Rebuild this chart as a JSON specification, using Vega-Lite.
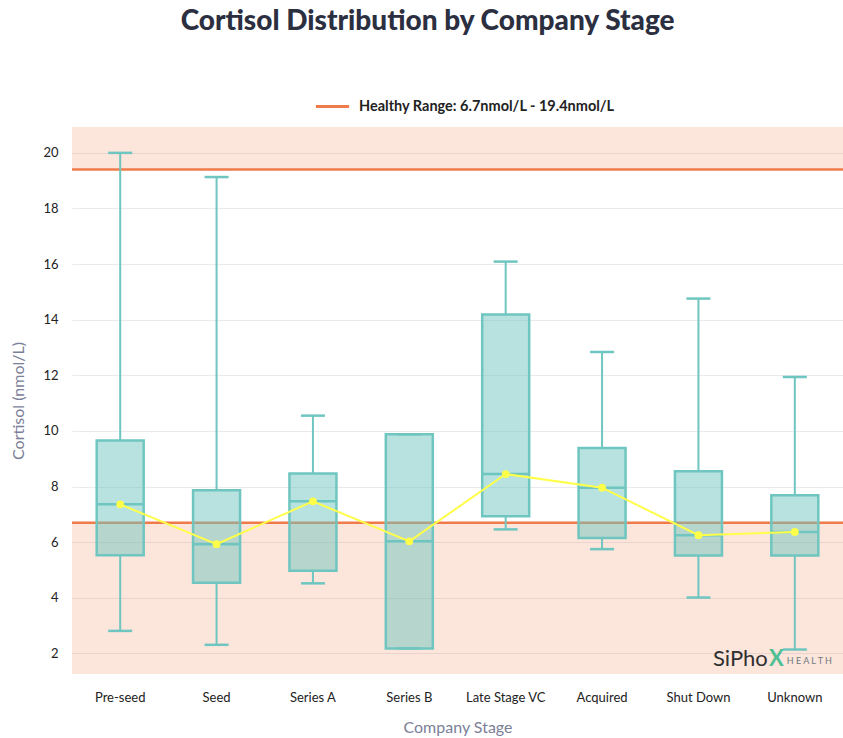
{
  "$schema": "https://vega.github.io/schema/vega-lite/v6.json",
  "width": 771,
  "height": 547,
  "autosize": {"type": "none"},
  "padding": {"left": 72, "top": 127, "right": 0, "bottom": 64},
  "background": "white",
  "title": {
    "text": "Cortisol Distribution by Company Stage",
    "font": "Lato",
    "fontSize": 28,
    "fontWeight": 900,
    "color": "#2b2f3f",
    "anchor": "middle",
    "frame": "bounds",
    "offset": 52
  },
  "datasets": {
    "boxes": [
      {"stage": "Pre-seed", "min": 2.81, "q1": 5.53, "median": 7.36, "q3": 9.66, "max": 20.0},
      {"stage": "Seed", "min": 2.31, "q1": 4.54, "median": 5.93, "q3": 7.87, "max": 19.13},
      {"stage": "Series A", "min": 4.52, "q1": 4.97, "median": 7.47, "q3": 8.47, "max": 10.55},
      {"stage": "Series B", "min": 2.18, "q1": 2.18, "median": 6.03, "q3": 9.88, "max": 9.88},
      {"stage": "Late Stage VC", "min": 6.46, "q1": 6.93, "median": 8.45, "q3": 14.19, "max": 16.09},
      {"stage": "Acquired", "min": 5.75, "q1": 6.15, "median": 7.96, "q3": 9.39, "max": 12.84},
      {"stage": "Shut Down", "min": 4.01, "q1": 5.52, "median": 6.25, "q3": 8.55, "max": 14.76},
      {"stage": "Unknown", "min": 2.14, "q1": 5.52, "median": 6.37, "q3": 7.69, "max": 11.94}
    ],
    "bands": [
      {"lo": 1.26, "hi": 6.7},
      {"lo": 19.4, "hi": 20.93}
    ],
    "limits": [
      {"value": 6.7, "label": "Healthy Range: 6.7nmol/L - 19.4nmol/L"},
      {"value": 19.4, "label": "Healthy Range: 6.7nmol/L - 19.4nmol/L"}
    ]
  },
  "encoding": {
    "x": {
      "field": "stage",
      "type": "nominal",
      "scale": {
        "domain": ["Pre-seed", "Seed", "Series A", "Series B", "Late Stage VC", "Acquired", "Shut Down", "Unknown"],
        "paddingInner": 0,
        "paddingOuter": 0
      },
      "axis": {
        "title": "Company Stage",
        "labelAngle": 0,
        "labelFont": "Lato",
        "labelFontSize": 13,
        "labelColor": "#222222",
        "labelPadding": 17,
        "titleFont": "Lato",
        "titleFontSize": 16,
        "titleFontWeight": "normal",
        "titleColor": "#7b8098",
        "titlePadding": 15,
        "ticks": false,
        "domain": false,
        "grid": false
      }
    }
  },
  "layer": [
    {
      "data": {"name": "bands"},
      "mark": {"type": "rect", "color": "#ef7b4a", "opacity": 0.2},
      "encoding": {
        "x": null,
        "y": {
          "field": "lo",
          "type": "quantitative",
          "scale": {"domain": [1.26, 20.93], "nice": false, "zero": false},
          "axis": {
            "title": "Cortisol (nmol/L)",
            "values": [2, 4, 6, 8, 10, 12, 14, 16, 18, 20],
            "labelFont": "Lato",
            "labelFontSize": 13,
            "labelColor": "#222222",
            "labelPadding": 14,
            "titleFont": "Lato",
            "titleFontSize": 16,
            "titleFontWeight": "normal",
            "titleColor": "#7b8098",
            "titlePadding": 16,
            "ticks": false,
            "domain": false,
            "gridColor": "#e9e9ee",
            "gridWidth": 1
          }
        },
        "y2": {"field": "hi"}
      }
    },
    {
      "data": {"name": "limits"},
      "mark": {"type": "rule", "strokeWidth": 2.5},
      "encoding": {
        "x": null,
        "y": {"field": "value", "type": "quantitative"},
        "color": {
          "field": "label",
          "type": "nominal",
          "scale": {"range": ["#ef7b4a"]},
          "legend": {
            "title": null,
            "orient": "none",
            "legendX": 242,
            "legendY": -39,
            "symbolType": "stroke",
            "symbolSize": 1100,
            "symbolStrokeWidth": 3,
            "labelFont": "Lato",
            "labelFontSize": 14.5,
            "labelFontWeight": "bold",
            "labelColor": "#222222",
            "labelOffset": 8,
            "labelLimit": 0
          }
        }
      }
    },
    {
      "data": {"name": "boxes"},
      "mark": {"type": "rule", "color": "#6fc6c0", "strokeWidth": 2},
      "encoding": {
        "y": {"field": "min", "type": "quantitative"},
        "y2": {"field": "q1"}
      }
    },
    {
      "data": {"name": "boxes"},
      "mark": {"type": "rule", "color": "#6fc6c0", "strokeWidth": 2},
      "encoding": {
        "y": {"field": "q3", "type": "quantitative"},
        "y2": {"field": "max"}
      }
    },
    {
      "data": {"name": "boxes"},
      "mark": {"type": "tick", "color": "#6fc6c0", "size": 24, "thickness": 2.5, "opacity": 1},
      "encoding": {
        "y": {"field": "min", "type": "quantitative"}
      }
    },
    {
      "data": {"name": "boxes"},
      "mark": {"type": "tick", "color": "#6fc6c0", "size": 24, "thickness": 2.5, "opacity": 1},
      "encoding": {
        "y": {"field": "max", "type": "quantitative"}
      }
    },
    {
      "data": {"name": "boxes"},
      "mark": {"type": "bar", "size": 47, "fill": "#6fc6c0", "fillOpacity": 0.5, "stroke": "#6fc6c0", "strokeWidth": 2.5},
      "encoding": {
        "y": {"field": "q1", "type": "quantitative"},
        "y2": {"field": "q3"}
      }
    },
    {
      "data": {"name": "boxes"},
      "mark": {"type": "tick", "color": "#6fc6c0", "size": 47, "thickness": 2.5, "opacity": 1},
      "encoding": {
        "y": {"field": "median", "type": "quantitative"}
      }
    },
    {
      "data": {"name": "boxes"},
      "mark": {"type": "line", "color": "#ffff4a", "strokeWidth": 2, "point": {"filled": true, "size": 60, "color": "#ffff4a", "opacity": 1}},
      "encoding": {
        "y": {"field": "median", "type": "quantitative"}
      }
    },
    {
      "data": {"values": [{"t": "SiPho"}]},
      "mark": {"type": "text", "font": "Lato", "fontSize": 22, "fontWeight": "normal", "color": "#2f2f2f", "align": "right", "baseline": "alphabetic", "dx": -27},
      "encoding": {
        "x": {"datum": "Unknown", "type": "nominal"},
        "y": {"datum": 1.55, "type": "quantitative"},
        "text": {"field": "t"}
      }
    },
    {
      "data": {"values": [{"t": "X"}]},
      "mark": {"type": "text", "font": "Lato", "fontSize": 22, "fontWeight": "bold", "color": "#4fbf95", "align": "right", "baseline": "alphabetic", "dx": -11},
      "encoding": {
        "x": {"datum": "Unknown", "type": "nominal"},
        "y": {"datum": 1.55, "type": "quantitative"},
        "text": {"field": "t"}
      }
    },
    {
      "data": {"values": [{"t": "H E A L T H"}]},
      "mark": {"type": "text", "font": "Lato", "fontSize": 9, "color": "#6c7a80", "align": "left", "baseline": "alphabetic", "dx": -8},
      "encoding": {
        "x": {"datum": "Unknown", "type": "nominal"},
        "y": {"datum": 1.62, "type": "quantitative"},
        "text": {"field": "t"}
      }
    }
  ],
  "config": {
    "view": {"stroke": null},
    "axis": {"labelFont": "Lato", "titleFont": "Lato"}
  }
}
